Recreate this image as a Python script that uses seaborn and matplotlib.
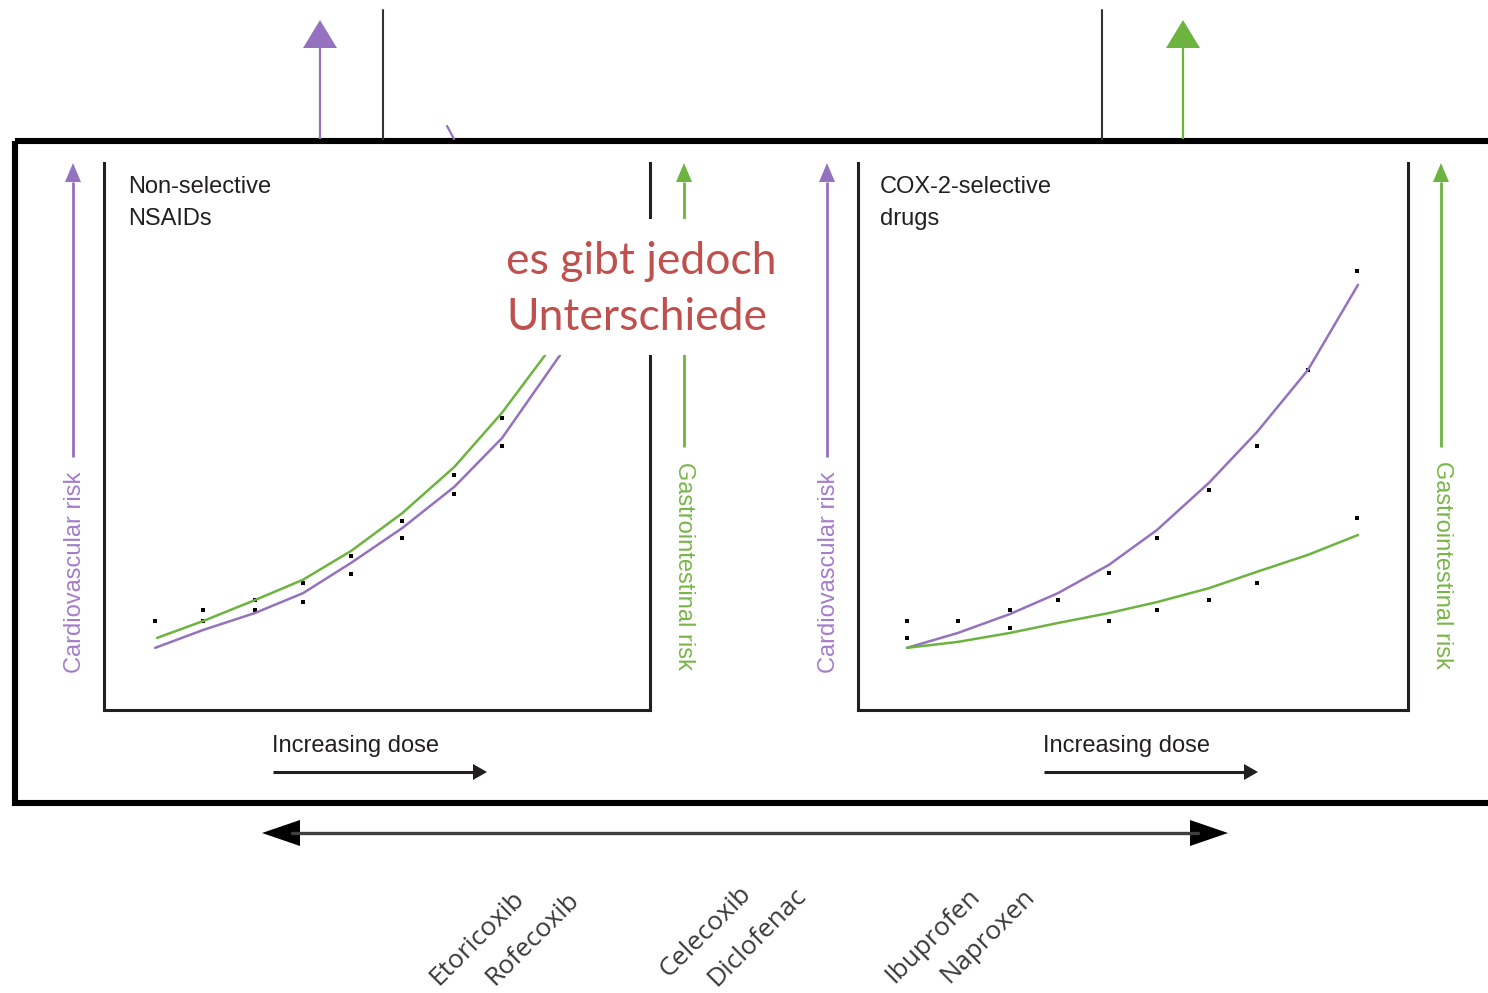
import seaborn as sns
import matplotlib.pyplot as plt
from matplotlib.patches import Rectangle, Polygon

# ---- data (dose units / risk units) ----
# non-selective NSAIDs panel
ns_gi_dose = [1.07, 2.00, 3.04, 4.01, 4.98, 6.01, 7.06, 8.02, 8.89]
ns_gi_risk = [1.45, 1.79, 2.21, 2.62, 3.20, 3.96, 4.89, 5.98, 7.14]
ns_cv_dose = [1.03, 2.00, 3.04, 4.01, 4.98, 6.01, 7.06, 8.02, 9.19]
ns_cv_risk = [1.25, 1.61, 1.95, 2.35, 2.96, 3.66, 4.49, 5.47, 7.14]
ns_pt_dose = [1.03, 2.00, 2.00, 3.04, 3.04, 4.01, 4.01, 4.98, 4.98, 6.01, 6.01, 7.06, 7.06, 8.02, 8.02]
ns_pt_risk = [1.79, 2.01, 1.79, 2.21, 2.01, 2.56, 2.17, 3.10, 2.74, 3.80, 3.46, 4.73, 4.35, 5.88, 5.31]

# COX-2-selective panel
cox_dose = [0.98, 2.00, 3.04, 4.00, 5.02, 5.98, 7.02, 7.98, 9.00, 10.00]
cox_cv_risk = [1.25, 1.55, 1.93, 2.35, 2.92, 3.62, 4.57, 5.59, 6.84, 8.55]
cox_gi_risk = [1.25, 1.37, 1.55, 1.75, 1.95, 2.17, 2.45, 2.78, 3.12, 3.52]
cox_pt_dose = [0.98, 0.98, 2.00, 3.04, 3.04, 4.00, 5.02, 5.02, 5.98, 5.98,
               7.02, 7.02, 7.98, 7.98, 9.00, 9.98, 9.98]
cox_pt_risk = [1.79, 1.45, 1.79, 2.01, 1.65, 2.21, 2.76, 1.79, 3.46, 2.01,
               4.43, 2.21, 5.31, 2.56, 6.84, 8.83, 3.86]

drugs = ["Etoricoxib", "Rofecoxib", "Celecoxib", "Diclofenac", "Ibuprofen", "Naproxen"]
drug_x = [438, 494, 668, 716, 894, 949]
drug_y = [986, 986, 978, 987, 984, 984]

PURPLE = "#9572bf"
GREEN = "#6db33f"
DARK = "#231f20"
NARROW = ["Liberation Sans", "DejaVu Sans"]

sns.set_style("white")
fig = plt.figure(figsize=(14.88, 9.93), dpi=100)
W, H = 1488, 993


def panel(x0, w):
    ax = fig.add_axes([x0 / W, (H - 710) / H, w / W, 547 / H])
    ax.set_xlim(0, 11)
    ax.set_ylim(0, 11)
    ax.set_xticks([])
    ax.set_yticks([])
    ax.patch.set_alpha(0)
    for s in ["left", "bottom", "right"]:
        ax.spines[s].set_visible(True)
        ax.spines[s].set_color(DARK)
        ax.spines[s].set_linewidth(2.2)
    ax.spines["top"].set_visible(False)
    return ax


ax1 = panel(104, 546)
sns.lineplot(x=ns_gi_dose, y=ns_gi_risk, color=GREEN, lw=1.8, ax=ax1)
sns.lineplot(x=ns_cv_dose, y=ns_cv_risk, color=PURPLE, lw=1.8, ax=ax1)
sns.scatterplot(x=ns_pt_dose, y=ns_pt_risk, color="black", marker="s", s=7, linewidth=0, ax=ax1)

ax2 = panel(858, 550)
sns.lineplot(x=cox_dose, y=cox_cv_risk, color=PURPLE, lw=1.8, ax=ax2)
sns.lineplot(x=cox_dose, y=cox_gi_risk, color=GREEN, lw=1.8, ax=ax2)
sns.scatterplot(x=cox_pt_dose, y=cox_pt_risk, color="black", marker="s", s=7, linewidth=0, ax=ax2)

# ---- overlay in pixel coordinates for the diagram decorations ----
ov = fig.add_axes([0, 0, 1, 1])
ov.set_xlim(0, W)
ov.set_ylim(H, 0)
ov.axis("off")
ov.patch.set_alpha(0)
ov.set_zorder(5)


def arrow_v(x, y0, y1, color, hl, hw, lw):
    # vertical arrow from y0 (tail) to y1 (tip)
    d = 1 if y1 > y0 else -1
    ov.plot([x, x], [y0, y1 - d * hl], color=color, lw=lw, solid_capstyle="butt")
    ov.add_patch(Polygon([[x - hw / 2, y1 - d * hl], [x + hw / 2, y1 - d * hl], [x, y1]],
                         closed=True, color=color, lw=0))


def arrow_h(x0, x1, y, color, hl, hw, lw):
    ov.plot([x0, x1 - hl], [y, y], color=color, lw=lw, solid_capstyle="butt")
    ov.add_patch(Polygon([[x1 - hl, y - hw / 2], [x1 - hl, y + hw / 2], [x1, y]],
                         closed=True, color=color, lw=0))


# outer frame
ov.add_patch(Rectangle((15, 141), 1500, 662, fill=False, ec="black", lw=4.4))

# stuff above the frame
arrow_v(320, 139, 20, PURPLE, 28, 34, 1.6)
arrow_v(1183, 139, 20, GREEN, 28, 34, 1.6)
ov.plot([383, 383], [10, 139], color="#333333", lw=1.5)
ov.plot([1102, 1102], [10, 139], color="#333333", lw=1.5)
ov.plot([447, 454], [126, 139], color=PURPLE, lw=1.6)

# axis arrows
for x in (73, 827):
    arrow_v(x, 457, 163, PURPLE, 19, 16, 2.0)
for x in (684, 1441):
    arrow_v(x, 447, 163, GREEN, 19, 16, 2.0)

ov.text(75, 572, "Cardiovascular risk", rotation=90, ha="center", va="center",
        color="#a47ccb", fontsize=17, family=NARROW)
ov.text(829, 572, "Cardiovascular risk", rotation=90, ha="center", va="center",
        color="#a47ccb", fontsize=17, family=NARROW)
ov.text(684, 566, "Gastrointestinal risk", rotation=270, ha="center", va="center",
        color="#79b548", fontsize=17, family=NARROW)
ov.text(1442, 565, "Gastrointestinal risk", rotation=270, ha="center", va="center",
        color="#79b548", fontsize=17, family=NARROW)

# panel titles
ov.text(128, 176, "Non-selective\nNSAIDs", ha="left", va="top", color=DARK,
        fontsize=17, family=NARROW, linespacing=1.6)
ov.text(880, 176, "COX-2-selective\ndrugs", ha="left", va="top", color=DARK,
        fontsize=17, family=NARROW, linespacing=1.6)

# increasing dose
for x0 in (272, 1043):
    ov.text(x0, 752, "Increasing dose", ha="left", va="baseline", color=DARK,
            fontsize=17, family=NARROW)
    arrow_h(x0 + 1, x0 + 215, 772, DARK, 14, 16, 2.2)

# red callout on a white patch that hides what is behind it
ov.add_patch(Rectangle((497, 219), 290, 136, color="white", lw=0, zorder=6))
ov.text(506, 241, "es gibt jedoch\nUnterschiede", ha="left", va="top", zorder=7,
        color="#c0504d", fontsize=32, family=["Lato", "DejaVu Sans"], linespacing=1.45)

# bottom double-headed arrow
ov.plot([292, 1198], [833, 833], color="#404040", lw=2.4)
ov.add_patch(Polygon([[262, 833], [300, 820], [300, 846]], closed=True, color="black", lw=0))
ov.add_patch(Polygon([[1228, 833], [1190, 820], [1190, 846]], closed=True, color="black", lw=0))

for name, x, y in zip(drugs, drug_x, drug_y):
    ov.text(x, y, name, rotation=45, rotation_mode="anchor", ha="left", va="baseline",
            color="#3a3a3a", fontsize=19, family=["Open Sans", "DejaVu Sans"])

fig.savefig("out.png", dpi=100)
